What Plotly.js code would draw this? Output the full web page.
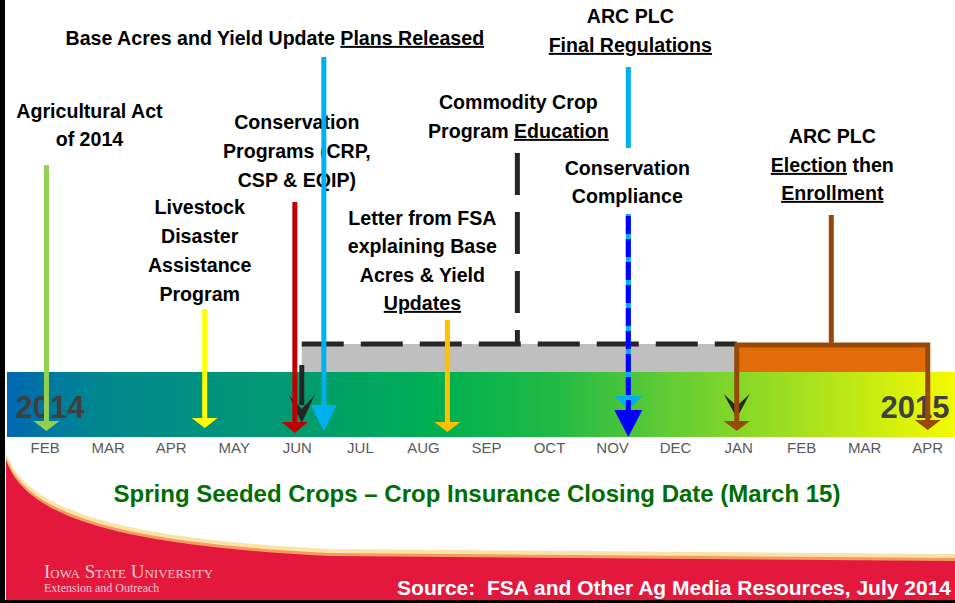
<!DOCTYPE html>
<html><head><meta charset="utf-8">
<script src="https://cdn.plot.ly/plotly-3.0.1.min.js"></script>
<style>html,body{margin:0;padding:0;background:#fff;overflow:hidden}#chart{width:955px;height:603px}</style>
</head><body><div id="chart"></div>
<script>
// ---------------- DATA ----------------
const monthLabels = ['FEB','MAR','APR','MAY','JUN','JUL','AUG','SEP','OCT','NOV','DEC','JAN','FEB','MAR','APR'];
const monthIndex  = [0,1,2,3,4,5,6,7,8,9,10,11,12,13,14];   // months since Feb 2014
const yearLabels  = ['2014','2015'];

const eventNames = ['Agricultural Act of 2014','Livestock Disaster Assistance Program',
  'Conservation Programs (CRP, CSP & EQIP)','Base Acres and Yield Update Plans Released',
  'Letter from FSA explaining Base Acres & Yield Updates','ARC PLC Final Regulations','Conservation Compliance'];
const eventMonth = [0.02, 2.53, 3.96, 4.42, 6.38, 9.25, 9.25];
const eventLabelLines = [
  ['Agricultural Act','of 2014'],
  ['Livestock','Disaster','Assistance','Program'],
  ['Conservation','Programs (CRP,','CSP & EQIP)'],
  ['Base Acres and Yield Update <u>Plans Released</u>'],
  ['Letter from FSA','explaining Base','Acres & Yield','<u>Updates</u>'],
  ['ARC PLC','<u>Final Regulations</u>'],
  ['Conservation','Compliance']
];

const periodNames      = ['Commodity Crop Program Education','ARC PLC Election then Enrollment'];
const periodStart      = [4.07, 10.97];
const periodEnd        = [10.97, 14.0];
const periodLabelMonth = [7.49, 12.47];
const periodLabelLines = [
  ['Commodity Crop','Program <u>Education</u>'],
  ['ARC PLC','<u>Election</u> then','<u>Enrollment</u>']
];

const footTitle  = 'Spring Seeded Crops \u2013 Crop Insurance Closing Date (March 15)';
const sourceNote = 'Source:\u00a0 FSA and Other Ag Media Resources, July 2014';
const logoLines  = ['Iowa State University','Extension and Outreach'];

// ---------------- LAYOUT / STYLE ----------------
const W = 955, H = 603, PX0 = 45.2, PXM = 63.04;
const toM = px => (px - PX0) / PXM;      // page pixel -> month axis (layout helper)
const dM  = px => px / PXM;
const X   = px => px / W;                // page pixel -> paper x
const FONT = 'Liberation Sans, Arial, sans-serif';

const eventStyle = [
  {color:'#92D050', top:165, tip:431, head:10, hw:13, dx:43,  ly:[113,141]},
  {color:'#FFFF00', top:309, tip:428, head:10, hw:13, dx:-5,  ly:[209,238,267,296]},
  {color:'#C00000', top:202, tip:433, head:11, hw:13, dx:2,   ly:[124,153,182]},
  {color:'#00B0F0', top:57,  tip:431, head:26, hw:13, dx:-49, ly:[40]},
  {color:'#FFC000', top:320, tip:432, head:10, hw:13, dx:-25, ly:[220,248,277,305]},
  {color:'#00B0F0', top:67,  tip:410, head:14, hw:14, dx:2,   ly:[18,47], gap:[148,214]},
  {color:'#0000FF', top:216, tip:437, head:27, hw:14, dx:-1,  ly:[170,198], dash:'18px,5px'}
];
const periodStyle = [
  {line:'#262626', fill:'#BFBFBF', dash:'42px,17px', stemTop:153, ly:[104,133], dx:1},
  {line:'#984807', fill:'#E36C09', dash:'solid',     stemTop:215, ly:[138,167,195], dx:1}
];
const BAR_TOP = 344, BAND_TOP = 372, BAND_BOT = 437;

const shapes = [];
const L = (x0,y0,x1,y1,color,width,dash) => shapes.push({type:'line',xref:'x',yref:'y',x0,y0,x1,y1,
  line:{color,width,dash:dash||'solid'},layer:'above'});
const P = (path,fill,layer,xref,line) => shapes.push({type:'path',xref:xref||'x',yref:'y',path,
  fillcolor:fill,line:line||{width:0},layer:layer||'above'});
const tri = (x,tip,len,hwPx,color) => { const h=dM(hwPx);
  P(`M${x-h},${tip-len} L${x+h},${tip-len} L${x},${tip} Z`, color); };
const chev = (x,tip,len,hwPx,color) => { const h=dM(hwPx);
  P(`M${x-h},${tip-len} L${x},${tip-len*0.5} L${x+h},${tip-len} L${x},${tip} Z`, color); };

// bottom swoosh (background decoration)
const curve = off => `M${X(6)},${460-off} C${X(25)},${515-off} ${X(110)},${545-off} ${X(330)},${556-off} L${X(955)},${561-off} L${X(955)},603 L${X(6)},603 Z`;
P(curve(7), '#FBE2A6', 'below', 'paper');
P(curve(3), '#F39A62', 'below', 'paper');
P(curve(0), '#E4183C', 'below', 'paper');

// periods
periodStart.forEach((s,i)=>{
  const st = periodStyle[i], e = periodEnd[i], c = periodLabelMonth[i];
  shapes.push({type:'rect',xref:'x',yref:'y',x0:s,x1:e,y0:BAR_TOP,y1:BAND_TOP,fillcolor:st.fill,line:{width:0},layer:'above'});
  if (i === 0) {
    L(s,BAR_TOP,e,BAR_TOP,st.line,5,st.dash);
    L(c,st.stemTop,c,BAR_TOP,st.line,5,st.dash);
    L(s,365,s,405,st.line,5);
    chev(s,423,28,13,st.line);
    chev(e,418,24,13,st.line);
  } else {
    P(`M${s},${421} L${s},${BAR_TOP+1} L${e},${BAR_TOP+1} L${e},${420}`,'rgba(0,0,0,0)','above','x',{color:st.line,width:5});
    L(c,st.stemTop,c,BAR_TOP,st.line,5);
    tri(s,431,10,13,st.line);
    tri(e,430,10,13,st.line);
  }
});

// events
eventMonth.forEach((m,i)=>{
  const s = eventStyle[i];
  const end = s.tip - s.head + 1;
  const segs = s.gap ? [[s.top,s.gap[0]],[s.gap[1],end]] : [[s.top,end]];
  segs.forEach(([a,b]) => L(m,a,m,b,s.color,5,s.dash));
  tri(m,s.tip,s.head,s.hw,s.color);
});

// borders
shapes.push({type:'line',xref:'paper',yref:'y',x0:X(2.5),x1:X(2.5),y0:0,y1:603,line:{color:'#000',width:5},layer:'above'});
shapes.push({type:'line',xref:'paper',yref:'y',x0:0,x1:1,y0:601.5,y1:601.5,line:{color:'#000',width:3},layer:'above'});

// ---------------- TRACES ----------------
const traces = [];
const bx0 = toM(7), bx1 = toM(W);
traces.push({type:'scatter',x:[bx0,bx1,bx1,bx0,bx0],y:[BAND_TOP,BAND_TOP,BAND_BOT,BAND_BOT,BAND_TOP],
  mode:'lines',line:{width:0},fill:'toself',
  fillgradient:{type:'horizontal',colorscale:[[0,'#0066B3'],[0.05,'#007A9F'],[0.1,'#00878F'],[0.3,'#009A70'],
    [0.46,'#00B050'],[0.58,'#22BA45'],[0.7,'#62CC33'],[0.84,'#A6E01E'],[1,'#F4FA00']]},
  hoverinfo:'skip',showlegend:false});

traces.push({type:'scatter',mode:'text',x:[toM(50),toM(915)],y:[410,410],text:yearLabels,
  textposition:'middle center',textfont:{family:FONT,size:31,weight:700,color:'#404040'},
  hoverinfo:'skip',showlegend:false,cliponaxis:false});

const lx=[],ly=[],lt=[];
eventLabelLines.forEach((lines,i)=>lines.forEach((t,j)=>{
  lx.push(eventMonth[i]+dM(eventStyle[i].dx)); ly.push(eventStyle[i].ly[j]); lt.push(t); }));
periodLabelLines.forEach((lines,i)=>lines.forEach((t,j)=>{
  lx.push(periodLabelMonth[i]+dM(periodStyle[i].dx)); ly.push(periodStyle[i].ly[j]); lt.push(t); }));
traces.push({type:'scatter',mode:'text',x:lx,y:ly,text:lt,textposition:'middle center',
  textfont:{family:FONT,size:19.6,weight:700,color:'#000'},hoverinfo:'skip',showlegend:false,cliponaxis:false});

traces.push({type:'scatter',mode:'text',x:[toM(477)],y:[496],text:[footTitle],textposition:'middle center',
  textfont:{family:FONT,size:24,weight:700,color:'#006E00'},hoverinfo:'skip',showlegend:false,cliponaxis:false});
traces.push({type:'scatter',mode:'text',x:[toM(951)],y:[590],text:[sourceNote],textposition:'middle left',
  textfont:{family:FONT,size:21,weight:700,color:'#FFFFFF'},hoverinfo:'skip',showlegend:false,cliponaxis:false});
traces.push({type:'scatter',mode:'text',x:[toM(44)],y:[573],text:[logoLines[0]],textposition:'middle right',
  textfont:{family:'Liberation Serif, Times New Roman, serif',size:19,variant:'small-caps',color:'#F6CCD2'},
  hoverinfo:'skip',showlegend:false,cliponaxis:false});
traces.push({type:'scatter',mode:'text',x:[toM(44)],y:[589],text:[logoLines[1]],textposition:'middle right',
  textfont:{family:'Liberation Serif, Times New Roman, serif',size:12,color:'#F6CCD2'},
  hoverinfo:'skip',showlegend:false,cliponaxis:false});

const layout = {
  width:W,height:H,margin:{l:0,r:0,t:0,b:0,pad:0},
  paper_bgcolor:'#fff',plot_bgcolor:'#fff',showlegend:false,
  xaxis:{range:[toM(0),toM(W)],anchor:'free',position:1-BAND_BOT/H,tickmode:'array',tickvals:monthIndex,
    ticktext:monthLabels,ticks:'',showgrid:false,zeroline:false,showline:false,fixedrange:true,
    tickfont:{family:FONT,size:15,color:'#595959'}},
  yaxis:{range:[H,0],visible:false,showgrid:false,zeroline:false,fixedrange:true},
  shapes
};
Plotly.newPlot('chart',traces,layout,{displayModeBar:false,staticPlot:true});
</script></body></html>
